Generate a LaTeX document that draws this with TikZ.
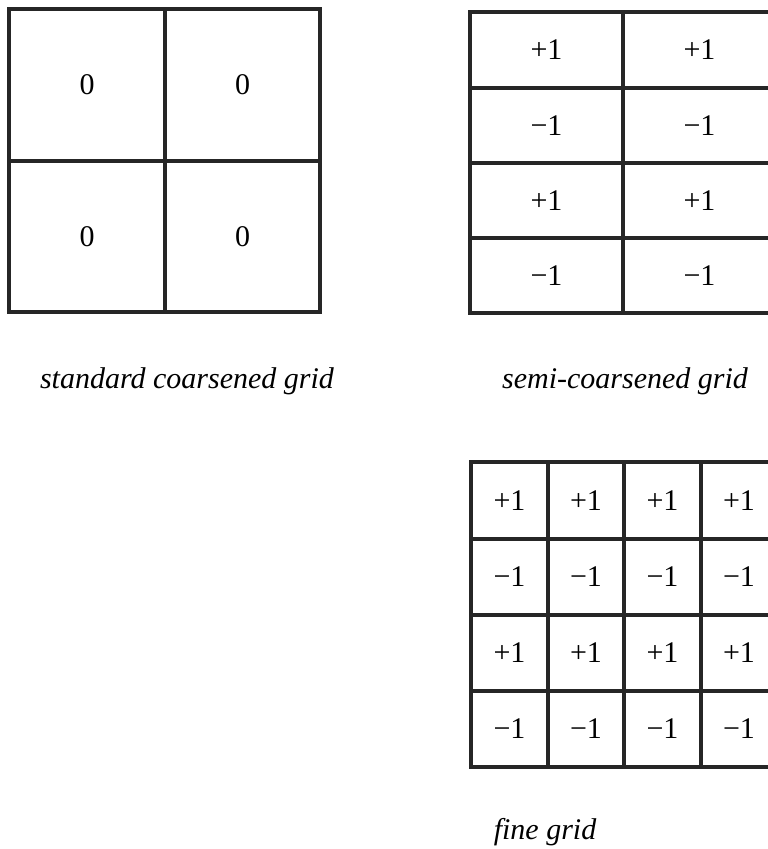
\documentclass[tikz,border=0pt]{standalone}
\usepackage{fontspec}
\setmainfont{Liberation Serif}
\begin{document}
\begin{tikzpicture}[x=1pt,y=-1pt,
  cell/.style={draw=black!85, line width=3.2pt, rectangle, inner sep=0pt, font=\fontsize{30}{30}\selectfont},
  lab/.style={font=\fontsize{30}{30}\selectfont\itshape, inner sep=0pt, anchor=base}]
\useasboundingbox (0,0) rectangle (768,849);
\clip (0,0) rectangle (768,849);
% standard coarsened grid
\foreach \c/\xa/\xb in {1/9/165,2/165/320}{
  \foreach \r/\ya/\yb in {1/9/161,2/161/312}{
    \node[cell, minimum width={(\xb-\xa)*1pt}, minimum height={(\yb-\ya)*1pt}] (s\r\c) at ({(\xa+\xb)/2},{(\ya+\yb)/2}) {0};
  }}
% semi-coarsened grid
\foreach \c/\xa/\xb in {1/470/623,2/623/776}{
  \foreach \r/\ya/\yb/\v in {1/12/88/+1,2/88/163/−1,3/163/238/+1,4/238/313/−1}{
    \node[cell, minimum width={(\xb-\xa)*1pt}, minimum height={(\yb-\ya)*1pt}] (m\r\c) at ({(\xa+\xb)/2},{(\ya+\yb)/2}) {\v};
  }}
% fine grid
\foreach \c/\xa/\xb in {1/471/548,2/548/624,3/624/701,4/701/777}{
  \foreach \r/\ya/\yb/\v in {1/462/539/+1,2/539/615/−1,3/615/691/+1,4/691/767/−1}{
    \node[cell, minimum width={(\xb-\xa)*1pt}, minimum height={(\yb-\ya)*1pt}] (f\r\c) at ({(\xa+\xb)/2},{(\ya+\yb)/2}) {\v};
  }}
\node[lab] (ls) at (187,388) {standard coarsened grid};
\node[lab] (lm) at (625,388) {semi-coarsened grid};
\node[lab] (lf) at (545,839) {fine grid};
\end{tikzpicture}
\end{document}
